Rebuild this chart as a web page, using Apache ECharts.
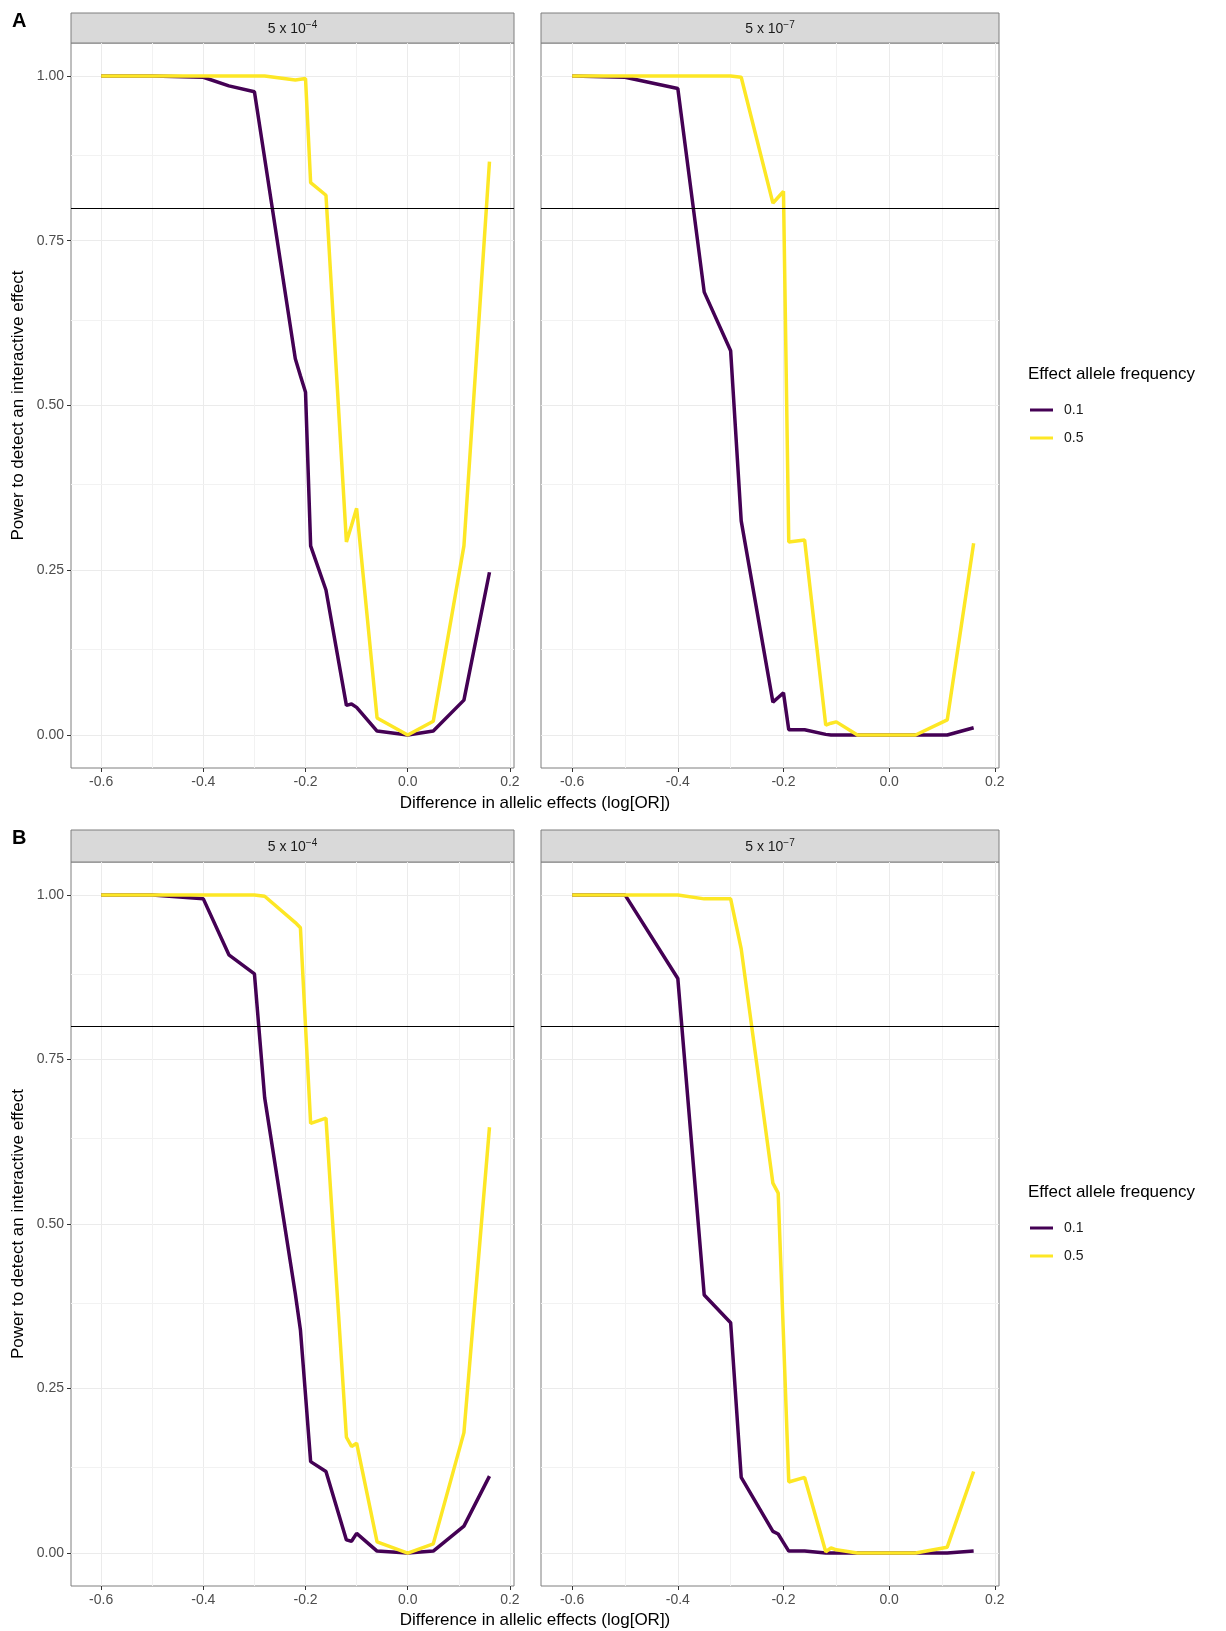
<!DOCTYPE html>
<html lang="en">
<head>
<meta charset="UTF-8">
<title>Power to detect an interactive effect</title>
<script src="https://cdn.jsdelivr.net/npm/echarts@6/dist/echarts.min.js"></script>
<style>
    body { margin: 0; background: #fff; }
    #box { width: 1226px; height: 1631px; }
</style>
</head>
<body>
<div id="box"></div>
<script>
    // x positions shared by every curve (difference in log OR)
    var logOR = [-0.6, -0.5, -0.4, -0.35, -0.3, -0.28, -0.22, -0.21, -0.2, -0.19, -0.16, -0.12, -0.11, -0.1, -0.06, 0, 0.05, 0.11, 0.16];

    // power, panel A
    var powA4_01 = [1, 1, 0.998, 0.985, 0.976, 0.875, 0.571, 0.545, 0.52, 0.287, 0.22, 0.045, 0.047, 0.042, 0.006, 0, 0.006, 0.053, 0.247];
    var powA4_05 = [1, 1, 1, 1, 1, 1, 0.994, 0.995, 0.996, 0.838, 0.819, 0.293, 0.318, 0.344, 0.026, 0, 0.021, 0.287, 0.87];
    var powA7_01 = [1, 0.998, 0.981, 0.672, 0.583, 0.325, 0.05, 0.057, 0.064, 0.008, 0.008, 0.001, 0, 0, 0, 0, 0, 0, 0.011];
    var powA7_05 = [1, 1, 1, 1, 1, 0.998, 0.807, 0.816, 0.825, 0.293, 0.296, 0.015, 0.018, 0.02, 0, 0, 0, 0.023, 0.291];
    // power, panel B
    var powB4_01 = [1, 1, 0.994, 0.909, 0.88, 0.692, 0.394, 0.339, 0.24, 0.139, 0.124, 0.02, 0.018, 0.03, 0.003, 0, 0.003, 0.041, 0.117];
    var powB4_05 = [1, 1, 1, 1, 1, 0.998, 0.958, 0.95, 0.8, 0.653, 0.661, 0.176, 0.162, 0.167, 0.017, 0, 0.014, 0.183, 0.647];
    var powB7_01 = [1, 1, 0.873, 0.392, 0.35, 0.115, 0.033, 0.029, 0.016, 0.003, 0.003, 0, 0, 0, 0, 0, 0, 0, 0.003];
    var powB7_05 = [1, 1, 1, 0.994, 0.994, 0.918, 0.562, 0.547, 0.33, 0.108, 0.115, 0.002, 0.008, 0.005, 0, 0, 0, 0.009, 0.124];

    var tickX = [-0.6, -0.4, -0.2, 0, 0.2];
    var tickY = [0, 0.25, 0.5, 0.75, 1];
    var minorX = [-0.5, -0.3, -0.1, 0.1];
    var minorY = [0.125, 0.375, 0.625, 0.875];
    var threshold = 0.8;
    var freqNames = ['0.1', '0.5'];
    var stripExp = ['−4', '−7', '−4', '−7'];

    var colors = ['#440154', '#FDE725'];
    var font = 'Liberation Sans, Arial, sans-serif';

    var grids = [
        { left: 71, top: 43, width: 443, height: 725 },
        { left: 541, top: 43, width: 458, height: 725 },
        { left: 71, top: 862, width: 443, height: 724 },
        { left: 541, top: 862, width: 458, height: 724 }
    ];
    var panelData = [
        [powA4_01, powA4_05],
        [powA7_01, powA7_05],
        [powB4_01, powB4_05],
        [powB7_01, powB7_05]
    ];

    var chart = echarts.init(document.getElementById('box'));

    var series = [];
    grids.forEach(function (g, gi) {
        // minor grid lines
        series.push({
            type: 'line', xAxisIndex: gi, yAxisIndex: gi, data: [], z: 1, silent: true,
            markLine: {
                silent: true, z: 1, symbol: ['none', 'none'], label: { show: false }, animation: false,
                lineStyle: { color: '#f2f2f2', width: 1, type: 'solid' },
                data: minorX.map(function (v) { return { xAxis: v }; })
                    .concat(minorY.map(function (v) { return { yAxis: v }; }))
            }
        });
        panelData[gi].forEach(function (vals, si) {
            series.push({
                name: freqNames[si], type: 'line', xAxisIndex: gi, yAxisIndex: gi,
                data: logOR.map(function (x, i) { return [x, vals[i]]; }),
                showSymbol: false, symbol: 'none', z: 3, silent: true,
                lineStyle: { width: 3.5, color: colors[si] },
                itemStyle: { color: colors[si] }
            });
        });
        // 0.8 power threshold
        series.push({
            type: 'line', xAxisIndex: gi, yAxisIndex: gi, data: [], z: 5, silent: true,
            markLine: {
                silent: true, z: 6, symbol: ['none', 'none'], label: { show: false }, animation: false,
                lineStyle: { color: '#000', width: 1.2, type: 'solid' },
                data: [{ yAxis: threshold }]
            }
        });
    });

    var graphics = [];
    grids.forEach(function (g, gi) {
        var top = gi < 2 ? 13 : 830;
        var h = g.top - top;
        graphics.push({
            type: 'rect', shape: { x: g.left, y: top, width: g.width, height: h },
            style: { fill: '#d9d9d9', stroke: '#7f7f7f', lineWidth: 1 }
        });
        graphics.push({
            type: 'text',
            style: {
                x: g.left + g.width / 2, y: top + h / 2 + 1, align: 'center', verticalAlign: 'middle',
                text: '{n|5 x 10}{s|' + stripExp[gi] + '}',
                rich: {
                    n: { fontSize: 14, fontFamily: font, fill: '#1a1a1a', lineHeight: 17 },
                    s: { fontSize: 10, fontFamily: font, fill: '#1a1a1a', lineHeight: 10, verticalAlign: 'top' }
                }
            }
        });
    });
    [['A', 21, 374, 803], ['B', 838, 1192, 1620]].forEach(function (p) {
        graphics.push({
            type: 'text',
            style: { x: 12, y: p[1], text: p[0], font: 'bold 20px ' + font, fill: '#000', verticalAlign: 'middle' }
        });
        graphics.push({
            type: 'text',
            style: { x: 1028, y: p[2], text: 'Effect allele frequency', font: '17px ' + font, fill: '#000', verticalAlign: 'middle' }
        });
        graphics.push({
            type: 'text',
            style: { x: 535, y: p[3], text: 'Difference in allelic effects (log[OR])', font: '17px ' + font, fill: '#000', align: 'center', verticalAlign: 'middle' }
        });
    });

    var option = {
        animation: false,
        textStyle: { fontFamily: font },
        grid: grids.map(function (g) {
            return { left: g.left, top: g.top, width: g.width, height: g.height, show: true, borderColor: '#7f7f7f', borderWidth: 1, backgroundColor: 'transparent' };
        }),
        xAxis: grids.map(function (g, i) {
            return {
                gridIndex: i, type: 'value', min: -0.659, max: 0.208,
                axisLine: { show: false, onZero: false },
                axisTick: { show: true, customValues: tickX, length: 4, lineStyle: { color: '#333' } },
                axisLabel: { customValues: tickX, formatter: function (v) { return v.toFixed(1); }, fontSize: 14, color: '#4d4d4d', margin: 7 },
                splitLine: { show: true, lineStyle: { color: '#ebebeb', width: 1 } }
            };
        }),
        yAxis: grids.map(function (g, i) {
            var left = i % 2 === 0;
            return {
                gridIndex: i, type: 'value', min: -0.05, max: 1.05,
                name: left ? 'Power to detect an interactive effect' : '',
                nameLocation: 'middle', nameGap: 44,
                nameTextStyle: { fontSize: 17, color: '#000' },
                axisLine: { show: false, onZero: false },
                axisTick: { show: left, customValues: tickY, length: 4, lineStyle: { color: '#333' } },
                axisLabel: { show: left, customValues: tickY, formatter: function (v) { return v.toFixed(2); }, fontSize: 14, color: '#4d4d4d', margin: 7 },
                splitLine: { show: true, lineStyle: { color: '#ebebeb', width: 1 } }
            };
        }),
        legend: [397, 1215].map(function (t) {
            return {
                data: freqNames, orient: 'vertical', left: 1025, top: t,
                icon: 'rect', itemWidth: 23, itemHeight: 3, itemGap: 12, selectedMode: false,
                textStyle: { fontSize: 14, color: '#1a1a1a', lineHeight: 16, padding: [0, 0, 0, 6] }
            };
        }),
        graphic: graphics,
        series: series
    };

    option && chart.setOption(option);
</script>
</body>
</html>
